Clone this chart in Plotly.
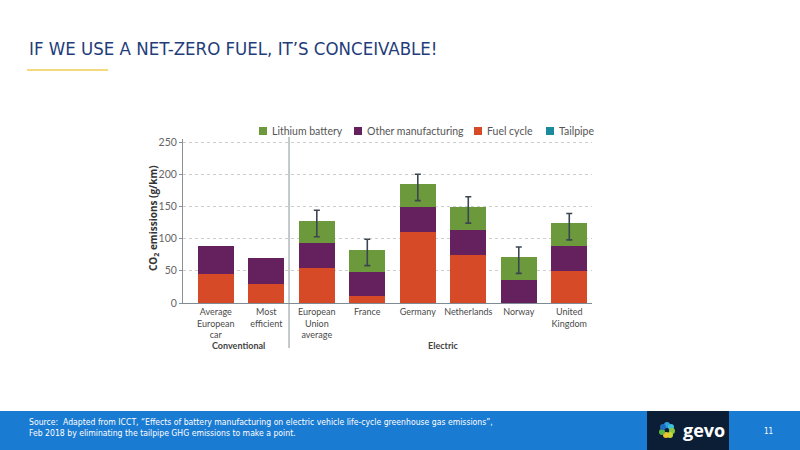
import plotly.graph_objects as go

# ---- data ----
categories = ["Average<br>European<br>car", "Most<br>efficient", "European<br>Union<br>average",
              "France", "Germany", "Netherlands", "Norway", "United<br>Kingdom"]
tailpipe = [0, 0, 0, 0, 0, 0, 0, 0]
fuel_cycle = [45, 29, 55, 11, 111, 75, 0, 50]
other_manufacturing = [44, 41, 38, 37, 38, 38, 36, 38]
lithium_battery = [0, 0, 35, 35, 36, 36, 36, 36]
err_plus = [None, None, 16, 16, 15, 16, 15, 15]
err_minus = [None, None, 25, 25, 26, 25, 26, 26]
series_names = ["Lithium battery", "Other manufacturing", "Fuel cycle", "Tailpipe"]
y_ticks = [0, 50, 100, 150, 200, 250]
groups = ["Conventional", "Electric"]

title_text = "IF WE USE A NET-ZERO FUEL, IT\u2019S CONCEIVABLE!"
source_text = ("Source:  Adapted from ICCT, \u201cEffects of battery manufacturing on electric vehicle life-cycle greenhouse gas emissions\u201d,"
               "<br>Feb 2018 by eliminating the tailpipe GHG emissions to make a point.")

colors = {"Lithium battery": "#6b993c", "Other manufacturing": "#64215e",
          "Fuel cycle": "#d64a27", "Tailpipe": "#1b8a9e"}

fig = go.Figure()
for name, vals in [("Tailpipe", tailpipe), ("Fuel cycle", fuel_cycle),
                   ("Other manufacturing", other_manufacturing), ("Lithium battery", lithium_battery)]:
    fig.add_trace(go.Bar(x=categories, y=vals, name=name, marker_color=colors[name],
                         marker_line_width=0, showlegend=False))

totals = [a + b + c + d for a, b, c, d in zip(tailpipe, fuel_cycle, other_manufacturing, lithium_battery)]
ex = [c for c, p in zip(categories, err_plus) if p is not None]
ey = [t for t, p in zip(totals, err_plus) if p is not None]
ep = [p for p in err_plus if p is not None]
em = [m for m in err_minus if m is not None]
fig.add_trace(go.Scatter(x=ex, y=ey, mode="markers", marker=dict(size=0.1, color="rgba(0,0,0,0)"),
                         showlegend=False, hoverinfo="skip",
                         error_y=dict(type="data", symmetric=False, array=ep, arrayminus=em,
                                      color="#3b4650", thickness=1.6, width=3)))

X0, X1 = 183 / 800, 592 / 800
Y0, Y1 = (450 - 303) / 450, (450 - 138.8) / 450

fig.update_layout(
    width=800, height=450, margin=dict(l=0, r=0, t=0, b=0, autoexpand=False),
    paper_bgcolor="white", plot_bgcolor="white",
    barmode="stack", bargap=0.29,
    font=dict(family="Lato", color="#555"),
    xaxis=dict(domain=[X0, X1], range=[-0.65, 7.45], type="category", automargin=False,
               showline=True, linecolor="#7f8c95", linewidth=1, ticks="",
               tickfont=dict(size=9, color="#4a4a4a", family="Lato"), showgrid=False,
               fixedrange=True),
    yaxis=dict(domain=[Y0, Y1], range=[0, 255], tickvals=y_ticks, automargin=False,
               showline=True, linecolor="#8a9298", linewidth=1, ticks="outside",
               ticklen=3, tickcolor="#8a9298",
               tickfont=dict(size=10.5, color="#666", family="Lato"),
               showgrid=True, gridcolor="#cfcfcf", griddash="dot", gridwidth=1,
               zeroline=False, fixedrange=True),
)

shapes = []
annotations = []
# separator between conventional and electric
shapes.append(dict(type="line", xref="x", yref="paper", x0=1.45, x1=1.45,
                   y0=(450 - 348) / 450, y1=(450 - 137) / 450, line=dict(color="#8a9298", width=1)))
# y-axis title
annotations.append(dict(text="<b>CO<sub>2</sub> emissions (g/km)</b>", xref="paper", yref="paper",
                        x=153 / 800, y=(450 - 218) / 450, textangle=-90, showarrow=False,
                        font=dict(size=10, color="#333", family="Open Sans"),
                        xanchor="center", yanchor="middle"))
# group labels
annotations.append(dict(text="<b>" + groups[0] + "</b>", xref="x", yref="paper", x=0.45, y=(450 - 345) / 450,
                        yanchor="middle", showarrow=False, font=dict(size=9, color="#444", family="Lato")))
annotations.append(dict(text="<b>" + groups[1] + "</b>", xref="x", yref="paper", x=4.5, y=(450 - 345) / 450,
                        yanchor="middle", showarrow=False, font=dict(size=9, color="#444", family="Lato")))
# legend
leg_x = [263, 358, 478, 550]
ly = (450 - 131) / 450
for nm, lx in zip(series_names, leg_x):
    shapes.append(dict(type="rect", xref="paper", yref="paper",
                       x0=(lx - 4) / 800, x1=(lx + 4) / 800, y0=ly - 4 / 450, y1=ly + 4 / 450,
                       fillcolor=colors[nm], line=dict(width=0)))
    annotations.append(dict(text=nm, xref="paper", yref="paper", x=(lx + 7) / 800, y=ly,
                            xanchor="left", yanchor="middle", showarrow=False,
                            font=dict(size=10.5, color="#555", family="Lato")))

# title and underline
annotations.append(dict(text=title_text, xref="paper", yref="paper", x=27 / 800, y=(450 - 48) / 450,
                        xanchor="left", yanchor="middle", showarrow=False,
                        font=dict(size=18.5, color="#1f3d7a", family="DejaVu Sans Condensed")))
shapes.append(dict(type="line", xref="paper", yref="paper", x0=27 / 800, x1=108 / 800,
                   y0=(450 - 70) / 450, y1=(450 - 70) / 450, line=dict(color="#f0cd55", width=1.5)))

# footer
shapes.append(dict(type="rect", xref="paper", yref="paper", x0=0, x1=1, y0=0, y1=(450 - 411) / 450,
                   fillcolor="#1a7bd2", line=dict(width=0), layer="below"))
shapes.append(dict(type="rect", xref="paper", yref="paper", x0=647 / 800, x1=729 / 800, y0=0,
                   y1=(450 - 411) / 450, fillcolor="#0b1e36", line=dict(width=0), layer="below"))
annotations.append(dict(text=source_text, xref="paper", yref="paper", x=27 / 800, y=(450 - 427) / 450,
                        xanchor="left", yanchor="middle", align="left", showarrow=False,
                        font=dict(size=8.6, color="white", family="DejaVu Sans Condensed")))
annotations.append(dict(text="11", xref="paper", yref="paper", x=768 / 800, y=(450 - 431) / 450,
                        xanchor="center", yanchor="middle", showarrow=False,
                        font=dict(size=8, color="white", family="DejaVu Sans Condensed")))
annotations.append(dict(text="<b>gevo</b>", xref="paper", yref="paper", x=681 / 800, y=(450 - 430) / 450,
                        xanchor="left", yanchor="middle", showarrow=False,
                        font=dict(size=18, color="white", family="Open Sans")))
# pinwheel logo
petals = [("#2f9fe0", 0, -5), ("#3fc0d8", 4, -3), ("#8cc63f", 5, 1), ("#c6d93a", 3, 5),
          ("#f2c230", -1, 5), ("#5bb848", -5, 2), ("#1f6fc0", -4, -3)]
cx, cy = 667, 430
for col, dx, dy in petals:
    shapes.append(dict(type="circle", xref="paper", yref="paper",
                       x0=(cx + dx - 3) / 800, x1=(cx + dx + 3) / 800,
                       y0=(450 - cy - dy - 3) / 450, y1=(450 - cy - dy + 3) / 450,
                       fillcolor=col, line=dict(width=0)))

fig.update_layout(shapes=shapes, annotations=annotations)
fig.write_html("out.html", config={"displayModeBar": False},
               post_script="document.body.style.margin='0';document.body.style.overflow='hidden';")
